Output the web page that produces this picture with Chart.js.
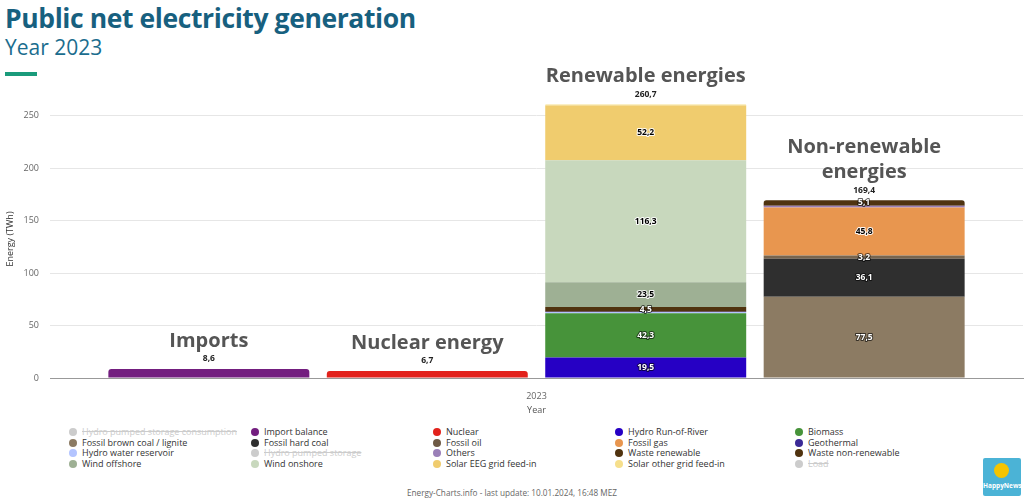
<!DOCTYPE html>
<html>
<head>
    <title>Public net electricity generation</title>
    <script src="https://cdn.jsdelivr.net/npm/chart.js"></script>
    <style>
        body { margin: 0; width: 1024px; height: 499px; background: #fff; font-family: "Open Sans", sans-serif; overflow: hidden; position: relative; }
        #title { position: absolute; left: 5px; top: 0px; font-size: 26.5px; font-weight: 700; color: #17607f; letter-spacing: -0.4px; }
        #subtitle { position: absolute; left: 5px; top: 33px; font-size: 21px; color: #1b6d8e; }
        #bar { position: absolute; left: 5px; top: 72px; width: 32px; height: 4px; background: #1a9b7b; }
        #wrap { position: absolute; left: 0; top: 60px; width: 1024px; height: 360px; }
        #legend { position: absolute; left: 0; top: 426px; width: 1024px; }
        .item { position: absolute; font-size: 9px; color: #333; white-space: nowrap; line-height: 12px; }
        .item span.dot { position: absolute; left: -13px; top: 2px; width: 8px; height: 8px; border-radius: 50%; }
        .item.off { color: #ccc; text-decoration: line-through; }
        #footer { position: absolute; left: 0; width: 1024px; top: 487px; text-align: center; font-size: 8.2px; color: #666; }
        #logo { position: absolute; left: 983px; top: 458px; width: 38px; height: 38px; background: #4bb3d6; border-radius: 2px; }
        #logo .sun { position: absolute; left: 11px; top: 5px; width: 15px; height: 15px; border-radius: 50%; background: #f5c400; }
        #logo .txt { position: absolute; left: 0; width: 38px; top: 23px; text-align: center; font-size: 6.5px; font-weight: 700; color: #fff; }
    </style>
</head>
<body>
    <div id="title">Public net electricity generation</div>
    <div id="subtitle">Year 2023</div>
    <div id="bar"></div>
    <div id="wrap"><canvas id="chart" width="1024" height="360"></canvas></div>
    <div id="legend"></div>
    <div id="footer">Energy-Charts.info - last update: 10.01.2024, 16:48 MEZ</div>
    <div id="logo"><div class="sun"></div><div class="txt">HappyNews</div></div>

    <script>
        // data (TWh, 2023)
        const categories = ['2023'];
        const stacks = ['imports', 'nuclear', 'renewable', 'nonrenewable'];
        const stackLabels = [['Imports'], ['Nuclear energy'], ['Renewable energies'], ['Non-renewable', 'energies']];

        const seriesNames  = ['Import balance', 'Nuclear',
                              'Hydro Run-of-River', 'Biomass', 'Hydro water reservoir', 'Geothermal', 'Waste renewable',
                              'Wind offshore', 'Wind onshore', 'Solar EEG grid feed-in', 'Solar other grid feed-in',
                              'Fossil brown coal / lignite', 'Fossil hard coal', 'Fossil oil', 'Fossil gas', 'Others', 'Waste non-renewable'];
        const seriesStack  = ['imports', 'nuclear',
                              'renewable', 'renewable', 'renewable', 'renewable', 'renewable',
                              'renewable', 'renewable', 'renewable', 'renewable',
                              'nonrenewable', 'nonrenewable', 'nonrenewable', 'nonrenewable', 'nonrenewable', 'nonrenewable'];
        const seriesValues = [8.6, 6.7,
                              19.5, 42.3, 1.2, 0.2, 4.5,
                              23.5, 116.3, 52.2, 1.0,
                              77.5, 36.1, 3.2, 45.8, 1.7, 5.1];
        const seriesColors = ['#731e7f', '#e2221c',
                              '#2600c4', '#47933a', '#b3c4ff', '#3b2a96', '#50330f',
                              '#9eb094', '#c8d8bd', '#f0cc6e', '#f6df8c',
                              '#8c7b63', '#2f2f2f', '#77654f', '#e8964f', '#9a7fb8', '#4f3310'];

        // legend (5 columns, row-major), hidden entries greyed out
        const legendNames = ['Hydro pumped storage consumption', 'Import balance', 'Nuclear', 'Hydro Run-of-River', 'Biomass',
                             'Fossil brown coal / lignite', 'Fossil hard coal', 'Fossil oil', 'Fossil gas', 'Geothermal',
                             'Hydro water reservoir', 'Hydro pumped storage', 'Others', 'Waste renewable', 'Waste non-renewable',
                             'Wind offshore', 'Wind onshore', 'Solar EEG grid feed-in', 'Solar other grid feed-in', 'Load'];
        const legendColors = ['#cccccc', '#731e7f', '#e2221c', '#2600c4', '#47933a',
                              '#8c7b63', '#2f2f2f', '#6e5a45', '#e8964f', '#3b2a96',
                              '#b3c4ff', '#cccccc', '#9a7fb8', '#50330f', '#50330f',
                              '#9eb094', '#c8d8bd', '#f0cc6e', '#f6df8c', '#cccccc'];
        const legendHidden = [true, false, false, false, false,
                              false, false, false, false, false,
                              false, true, false, false, false,
                              false, false, false, false, true];

        const fmt = v => v.toFixed(1).replace('.', ',');

        function isDark(hex) {
            const r = parseInt(hex.substr(1, 2), 16), g = parseInt(hex.substr(3, 2), 16), b = parseInt(hex.substr(5, 2), 16);
            return (0.299 * r + 0.587 * g + 0.114 * b) < 150;
        }

        const legendX = [82, 264, 446, 628, 808];
        const legendEl = document.getElementById('legend');
        legendNames.forEach((name, i) => {
            const d = document.createElement('div');
            d.className = 'item' + (legendHidden[i] ? ' off' : '');
            d.style.left = legendX[i % 5] + 'px';
            d.style.top = (Math.floor(i / 5) * 10.5) + 'px';
            d.innerHTML = '<span class="dot" style="background:' + legendColors[i] + '"></span>' + name;
            legendEl.appendChild(d);
        });

        // segment values, totals and the big group captions
        const labelsPlugin = {
            id: 'stackLabels',
            afterDatasetsDraw(chart) {
                const ctx = chart.ctx;
                ctx.save();
                ctx.textAlign = 'center';
                ctx.textBaseline = 'middle';
                ctx.lineJoin = 'round';
                chart.data.datasets.forEach((ds, i) => {
                    const el = chart.getDatasetMeta(i).data[0];
                    const single = seriesStack.filter(s => s === ds.stack).length === 1;
                    if (single || ds.data[0] < 3) return;
                    const dark = isDark(ds.backgroundColor);
                    ctx.font = 'bold 8.5px "Open Sans"';
                    ctx.lineWidth = 2;
                    ctx.strokeStyle = dark ? 'rgba(0,0,0,0.6)' : 'rgba(255,255,255,0.9)';
                    ctx.fillStyle = dark ? '#fff' : '#000';
                    const y = (el.y + el.base) / 2;
                    ctx.strokeText(fmt(ds.data[0]), el.x, y);
                    ctx.fillText(fmt(ds.data[0]), el.x, y);
                });
                stacks.forEach((s, k) => {
                    let top = Infinity, x = 0, total = 0;
                    chart.data.datasets.forEach((ds, i) => {
                        if (ds.stack !== s) return;
                        const el = chart.getDatasetMeta(i).data[0];
                        top = Math.min(top, el.y);
                        x = el.x;
                        total += ds.data[0];
                    });
                    ctx.font = 'bold 8.5px "Open Sans"';
                    ctx.fillStyle = '#222';
                    ctx.fillText(fmt(total), x, top - 10);
                    ctx.font = 'bold 20px "Open Sans"';
                    ctx.fillStyle = '#555';
                    const lines = stackLabels[k];
                    lines.forEach((t, j) => {
                        ctx.fillText(t, x, top - 28 - (lines.length - 1 - j) * 25);
                    });
                });
                ctx.restore();
            }
        };

        const datasets = seriesNames.map((name, i) => ({
            label: name,
            data: [seriesValues[i]],
            stack: seriesStack[i],
            backgroundColor: seriesColors[i],
            borderWidth: 0,
            borderRadius: 3,
            borderSkipped: 'bottom'
        }));

        const ctx = document.getElementById('chart').getContext('2d');
        new Chart(ctx, {
            type: 'bar',
            data: { labels: categories, datasets: datasets },
            options: {
                responsive: false,
                animation: false,
                layout: { padding: { top: 40, right: 1, bottom: 0, left: 0 } },
                datasets: { bar: { barPercentage: 0.92, categoryPercentage: 0.898 } },
                plugins: { legend: { display: false }, tooltip: { enabled: false } },
                scales: {
                    x: {
                        stacked: true,
                        grid: { display: false, drawTicks: false },
                        border: { display: true, color: '#999', width: 1 },
                        ticks: { color: '#666', font: { family: 'Open Sans', size: 9 }, padding: 13 },
                        title: { display: true, text: 'Year', color: '#555', font: { family: 'Open Sans', size: 9 }, padding: { top: 0, bottom: 4 } },
                        afterFit: s => { s.height = 42; }
                    },
                    y: {
                        stacked: true,
                        min: 0,
                        max: 265,
                        grid: { color: '#e6e6e6', drawTicks: false },
                        border: { display: false },
                        ticks: { stepSize: 50, color: '#666', font: { family: 'Open Sans', size: 9 }, padding: 11 },
                        afterBuildTicks: s => { s.ticks = s.ticks.filter(t => t.value % 50 === 0); },
                        title: { display: true, text: 'Energy (TWh)', color: '#333', font: { family: 'Open Sans', size: 9 }, padding: { top: 5, bottom: 0 } },
                        afterFit: s => { s.width = 50; }
                    }
                }
            },
            plugins: [labelsPlugin]
        });
    </script>
</body>
</html>
